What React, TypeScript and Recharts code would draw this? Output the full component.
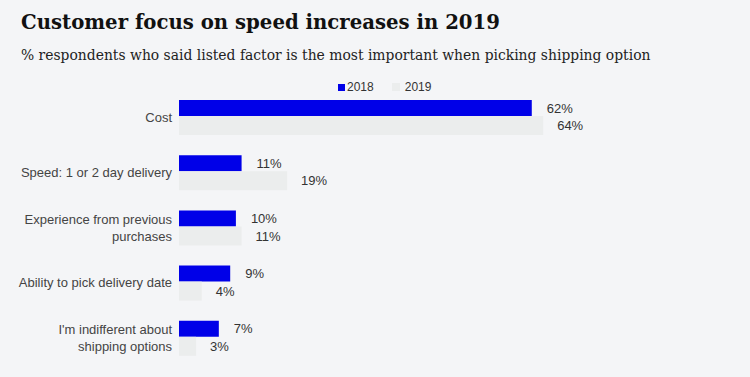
import { BarChart, Bar, XAxis, YAxis, LabelList } from 'recharts'

const factors = [
  'Cost',
  'Speed: 1 or 2 day delivery',
  'Experience from previous\npurchases',
  'Ability to pick delivery date',
  "I'm indifferent about\nshipping options",
]
const share2018 = [62, 11, 10, 9, 7]
const share2019 = [64, 19, 11, 4, 3]

const BLUE = '#0000e8'
const GREY = '#ebeded'
const BG = '#f4f5f7'
const SANS = 'Liberation Sans, Arial, sans-serif'

const rows = factors.map((f, i) => ({ factor: f, y2018: share2018[i], y2019: share2019[i] }))

const FactorTick = ({ x, y, payload }: any) => {
  const lines = String(payload.value).split('\n')
  const start = -((lines.length - 1) * 17) / 2
  return (
    <text x={x} y={y} textAnchor="end" fill="#444" fontSize={13} fontFamily={SANS}>
      {lines.map((l, i) => (
        <tspan key={i} x={x} dy={i === 0 ? start + 4 : 17}>{l}</tspan>
      ))}
    </text>
  )
}

const pct = (v: any) => `${v}%`

export default function App() {
  return (
    <div style={{ position: 'absolute', left: 0, top: 0, width: 750, height: 377, background: BG, overflow: 'hidden' }}>
      <div style={{ position: 'absolute', left: 21, top: 11, fontFamily: 'DejaVu Serif, serif', fontWeight: 700, fontSize: 19.7, color: '#111', whiteSpace: 'nowrap' }}>
        Customer focus on speed increases in 2019
      </div>
      <div style={{ position: 'absolute', left: 21, top: 47, fontFamily: 'DejaVu Serif, serif', fontSize: 13.9, color: '#222', whiteSpace: 'nowrap' }}>
        % respondents who said listed factor is the most important when picking shipping option
      </div>
      {/* legend */}
      <div style={{ position: 'absolute', left: 338, top: 80, display: 'flex', alignItems: 'center', fontFamily: SANS, fontSize: 12, color: '#333' }}>
        <span style={{ width: 7, height: 7, background: BLUE, marginRight: 2 }} />
        <span style={{ marginRight: 18 }}>2018</span>
        <span style={{ width: 8, height: 8, background: GREY, marginRight: 5 }} />
        <span>2019</span>
      </div>
      <BarChart
        width={750}
        height={377}
        data={rows}
        layout="vertical"
        barGap={0}
        margin={{ top: 90, right: 2, bottom: 11, left: 0 }}
        style={{ position: 'absolute', left: 0, top: 0 }}
      >
        <XAxis type="number" domain={[0, 100]} hide />
        <YAxis type="category" dataKey="factor" width={179} axisLine={false} tickLine={false} tickMargin={1} tick={<FactorTick />} interval={0} />
        <Bar dataKey="y2018" fill={BLUE} barSize={16} isAnimationActive={false}>
          <LabelList dataKey="y2018" position="right" offset={15} formatter={pct} fill="#333" fontSize={13} fontFamily={SANS} />
        </Bar>
        <Bar dataKey="y2019" fill={GREY} barSize={19} isAnimationActive={false}>
          <LabelList dataKey="y2019" position="right" offset={14} formatter={pct} fill="#333" fontSize={13} fontFamily={SANS} />
        </Bar>
      </BarChart>
    </div>
  )
}
